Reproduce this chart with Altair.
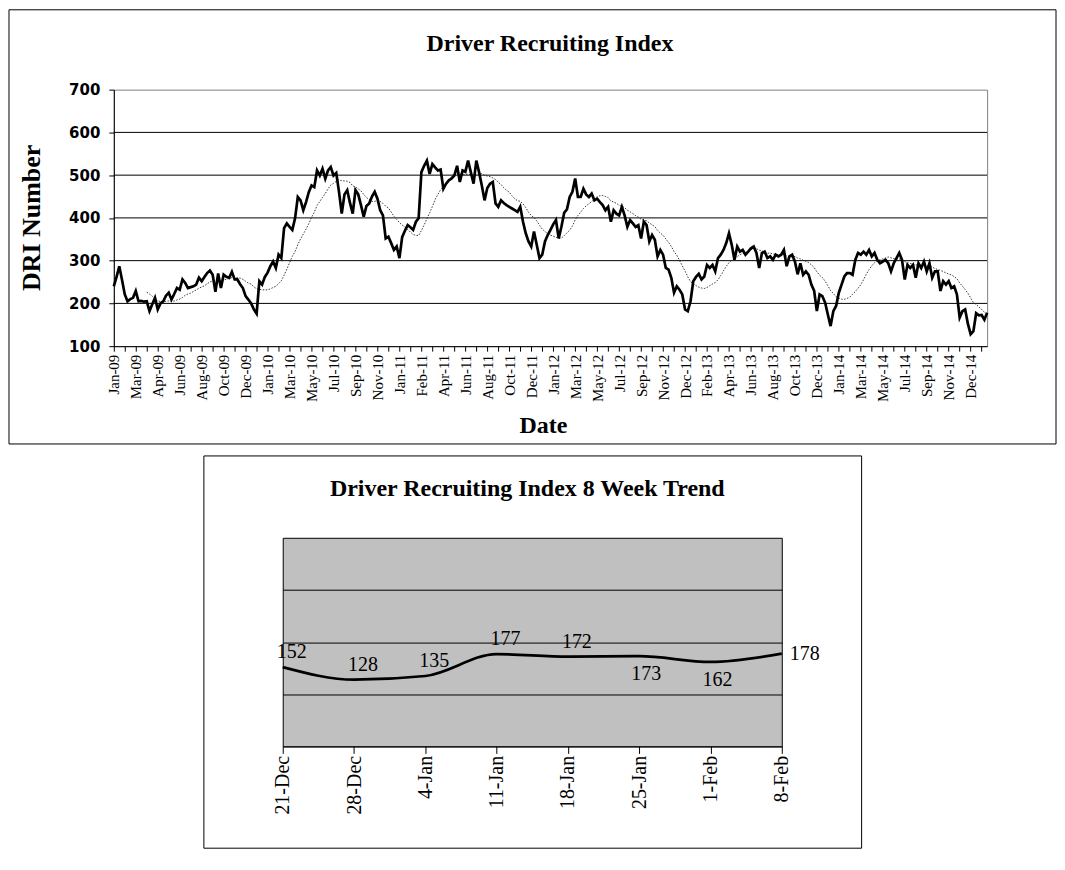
import altair as alt
import pandas as pd

# ---------------- data ----------------
# Weekly Driver Recruiting Index, Sunday weeks starting 4 Jan 2009
dri_2009 = [240, 262, 287, 255, 221, 205, 210, 213, 229, 205, 206, 204, 205,
            182, 198, 213, 186, 200, 205, 218, 225, 209, 222, 236, 232, 256,
            248, 236, 238, 240, 244, 260, 252, 262, 271, 277, 267, 227, 270,
            236, 267, 262, 260, 274, 256, 256, 245, 236, 217, 209, 200, 186]
dri_2010 = [176, 252, 244, 262, 272, 287, 298, 283, 314, 306, 376, 387, 379,
            372, 399, 449, 441, 418, 437, 460, 476, 472, 511, 499, 515, 492,
            511, 519, 499, 505, 461, 410, 455, 465, 435, 410, 465, 455, 430,
            403, 428, 434, 450, 461, 445, 418, 406, 352, 356, 341, 325, 333]
dri_2011 = [306, 355, 370, 383, 378, 372, 391, 399, 507, 522, 534, 503, 526,
            518, 511, 513, 468, 480, 488, 492, 499, 522, 484, 511, 508, 534,
            507, 480, 534, 507, 476, 441, 470, 480, 484, 434, 426, 441, 435,
            430, 426, 422, 418, 414, 426, 391, 364, 345, 333, 368, 337, 306]
dri_2012 = [314, 345, 360, 372, 385, 395, 352, 380, 412, 420, 449, 461, 492,
            449, 449, 468, 455, 449, 457, 441, 445, 437, 430, 418, 426, 391,
            418, 410, 406, 426, 406, 379, 395, 387, 379, 383, 352, 391, 383,
            345, 360, 349, 310, 325, 314, 283, 279, 260, 225, 240, 232, 221,
            186]
dri_2013 = [182, 205, 252, 262, 269, 256, 263, 290, 283, 290, 275, 306, 314,
            325, 341, 364, 337, 302, 333, 321, 325, 314, 321, 329, 333, 318,
            283, 318, 321, 306, 310, 302, 314, 310, 314, 325, 287, 310, 314,
            298, 268, 294, 267, 275, 267, 244, 230, 182, 221, 217, 202, 174]
dri_2014 = [147, 182, 194, 225, 244, 263, 271, 271, 267, 302, 318, 314, 321,
            314, 325, 310, 318, 302, 294, 298, 302, 294, 275, 294, 306, 318,
            302, 256, 290, 283, 290, 260, 294, 283, 298, 275, 294, 260, 275,
            275, 229, 252, 244, 252, 236, 240, 221, 167, 182, 186, 152, 128]
dri_2015 = [135, 177, 172, 173, 162, 178]

first_week = "2009-01-04"
moving_average_weeks = 13
y_ticks_top = [100, 200, 300, 400, 500, 600, 700]
grid_top = [200, 300, 400, 500, 600]

trend_weeks = ["21-Dec", "28-Dec", "4-Jan", "11-Jan", "18-Jan", "25-Jan", "1-Feb", "8-Feb"]
trend_values = [152, 128, 135, 177, 172, 173, 162, 178]
trend_above = ["21-Dec", "28-Dec", "4-Jan", "11-Jan", "18-Jan"]
trend_below = ["25-Jan", "1-Feb"]
trend_right = ["8-Feb"]
grid_bottom = [100, 200, 300]

# ---------------- tables ----------------
dri_all = dri_2009 + dri_2010 + dri_2011 + dri_2012 + dri_2013 + dri_2014 + dri_2015
dates = pd.date_range(first_week, periods=len(dri_all), freq="7D")
df = pd.DataFrame({"date": dates.strftime("%Y-%m-%dT00:00:00"), "dri": dri_all})
tick_dates = [alt.DateTime(year=int(d.year), month=int(d.month), date=int(d.day)) for d in dates[::4]]
grid_df = pd.DataFrame({"v": grid_top})
one = pd.DataFrame({"k": [0]})
trend_df = pd.DataFrame({"week": trend_weeks, "value": trend_values})

SERIF = "Liberation Serif"

# ---------------- top chart ----------------
y_scale = alt.Scale(domain=[100, 700], nice=False, zero=False)
y_axis = alt.Axis(values=y_ticks_top, grid=False, labelFont="DejaVu Sans", labelFontWeight="bold",
                  labelFontSize=15, labelColor="black", tickSize=5, tickColor="black",
                  domainColor="black", labelPadding=9, title="DRI Number",
                  titleFont=SERIF, titleFontSize=26, titleFontWeight="bold", titleColor="black",
                  titleAngle=270, titleAlign="center", titleBaseline="alphabetic",
                  titleX=-74, titleY=128)
x_axis = alt.Axis(values=tick_dates, grid=False, labelAngle=270, labelFont=SERIF, labelFontSize=15,
                  labelColor="black", labelOverlap=False, labelFlush=False, labelPadding=3,
                  tickSize=5, tickColor="black", domainColor="black",
                  labelExpr="round((datum.value - datetime(2009,0,4)) / 604800000) % 8 == 0 ? timeFormat(datum.value, '%b-%y') : ''",
                  title="Date", titleFont=SERIF, titleFontSize=24, titleFontWeight="bold",
                  titleColor="black", titleAlign="center", titleBaseline="alphabetic",
                  titleX=430, titleY=87)
x_enc = alt.X("date:T", scale=alt.Scale(nice=False), axis=x_axis)

grid_layer = alt.Chart(grid_df).mark_rule(color="black", strokeWidth=1).encode(
    y=alt.Y("v:Q", scale=y_scale, axis=y_axis)
)
ma_layer = alt.Chart(df).transform_window(
    ma="mean(dri)", rn="row_number()", frame=[-(moving_average_weeks - 1), 0],
    sort=[alt.SortField("date")]
).transform_filter(
    f"datum.rn >= {moving_average_weeks}"
).mark_line(color="#222222", strokeWidth=0.9, strokeDash=[1.5, 1.5]).encode(
    x=x_enc, y=alt.Y("ma:Q", scale=y_scale, axis=y_axis)
)
main_layer = alt.Chart(df).mark_line(color="black", strokeWidth=2.7).encode(
    x=x_enc, y=alt.Y("dri:Q", scale=y_scale, axis=y_axis)
)
top_title = alt.Chart(one).mark_text(
    text="Driver Recruiting Index", font=SERIF, fontSize=24, fontWeight="bold",
    align="center", baseline="alphabetic", color="black"
).encode(x=alt.value(437), y=alt.value(-39))
top_box = alt.Chart(one).mark_rect(fillOpacity=0, stroke="black", strokeWidth=1).encode(
    x=alt.value(-105), x2=alt.value(944), y=alt.value(-80), y2=alt.value(355)
)
top = alt.layer(grid_layer, ma_layer, main_layer, top_title, top_box).properties(
    width=875, height=257,
    view=alt.ViewBackground(fill="white", stroke="#808080", strokeWidth=1)
)

# ---------------- bottom chart ----------------
x2_enc = alt.X("week:O", sort=trend_weeks, scale=alt.Scale(type="point", padding=0),
               axis=alt.Axis(labelAngle=270, labelFont=SERIF, labelFontSize=20, labelColor="black",
                             labelPadding=2, tickSize=7, tickColor="black", domainColor="black",
                             grid=False, title=None))
y2_scale = alt.Scale(domain=[0, 400], nice=False)
y2_axis = alt.Axis(values=grid_bottom, grid=True, gridColor="black", gridWidth=1, labels=False,
                   ticks=False, domain=False, title=None)
y2_enc = alt.Y("value:Q", scale=y2_scale, axis=y2_axis)

trend_line = alt.Chart(trend_df).mark_line(color="black", strokeWidth=2.7, interpolate="monotone").encode(
    x=x2_enc, y=y2_enc
)
lab_style = dict(font=SERIF, fontSize=20, color="black")
lab_above = alt.Chart(trend_df).transform_filter(
    alt.FieldOneOfPredicate(field="week", oneOf=trend_above)
).mark_text(dx=9, dy=-15, **lab_style).encode(x=x2_enc, y=y2_enc, text="value:Q")
lab_below = alt.Chart(trend_df).transform_filter(
    alt.FieldOneOfPredicate(field="week", oneOf=trend_below)
).mark_text(dx=7, dy=18, **lab_style).encode(x=x2_enc, y=y2_enc, text="value:Q")
lab_right = alt.Chart(trend_df).transform_filter(
    alt.FieldOneOfPredicate(field="week", oneOf=trend_right)
).mark_text(dx=8, dy=0, align="left", **lab_style).encode(x=x2_enc, y=y2_enc, text="value:Q")
bottom_title = alt.Chart(one).mark_text(
    text="Driver Recruiting Index 8 Week Trend", font=SERIF, fontSize=24, fontWeight="bold",
    align="center", baseline="alphabetic", color="black"
).encode(x=alt.value(245), y=alt.value(-42))
bottom_box = alt.Chart(one).mark_rect(fillOpacity=0, stroke="black", strokeWidth=1).encode(
    x=alt.value(-79), x2=alt.value(580), y=alt.value(-82), y2=alt.value(311)
)
# invisible spacer that balances the centring of the two panels
bottom_spacer = alt.Chart(one).mark_rect(fillOpacity=0, strokeOpacity=0).encode(
    x=alt.value(580), x2=alt.value(606), y=alt.value(0), y2=alt.value(10)
)
bottom = alt.layer(trend_line, lab_above, lab_below, lab_right, bottom_title, bottom_box,
                   bottom_spacer).properties(
    width=500, height=209,
    view=alt.ViewBackground(fill="#c0c0c0", stroke="black", strokeWidth=1)
)

chart = alt.vconcat(top, bottom, spacing=10, center=True).properties(
    padding=0, background="white"
).configure(font=SERIF)

chart.save("out.html", embed_options={"renderer": "svg", "actions": False})
